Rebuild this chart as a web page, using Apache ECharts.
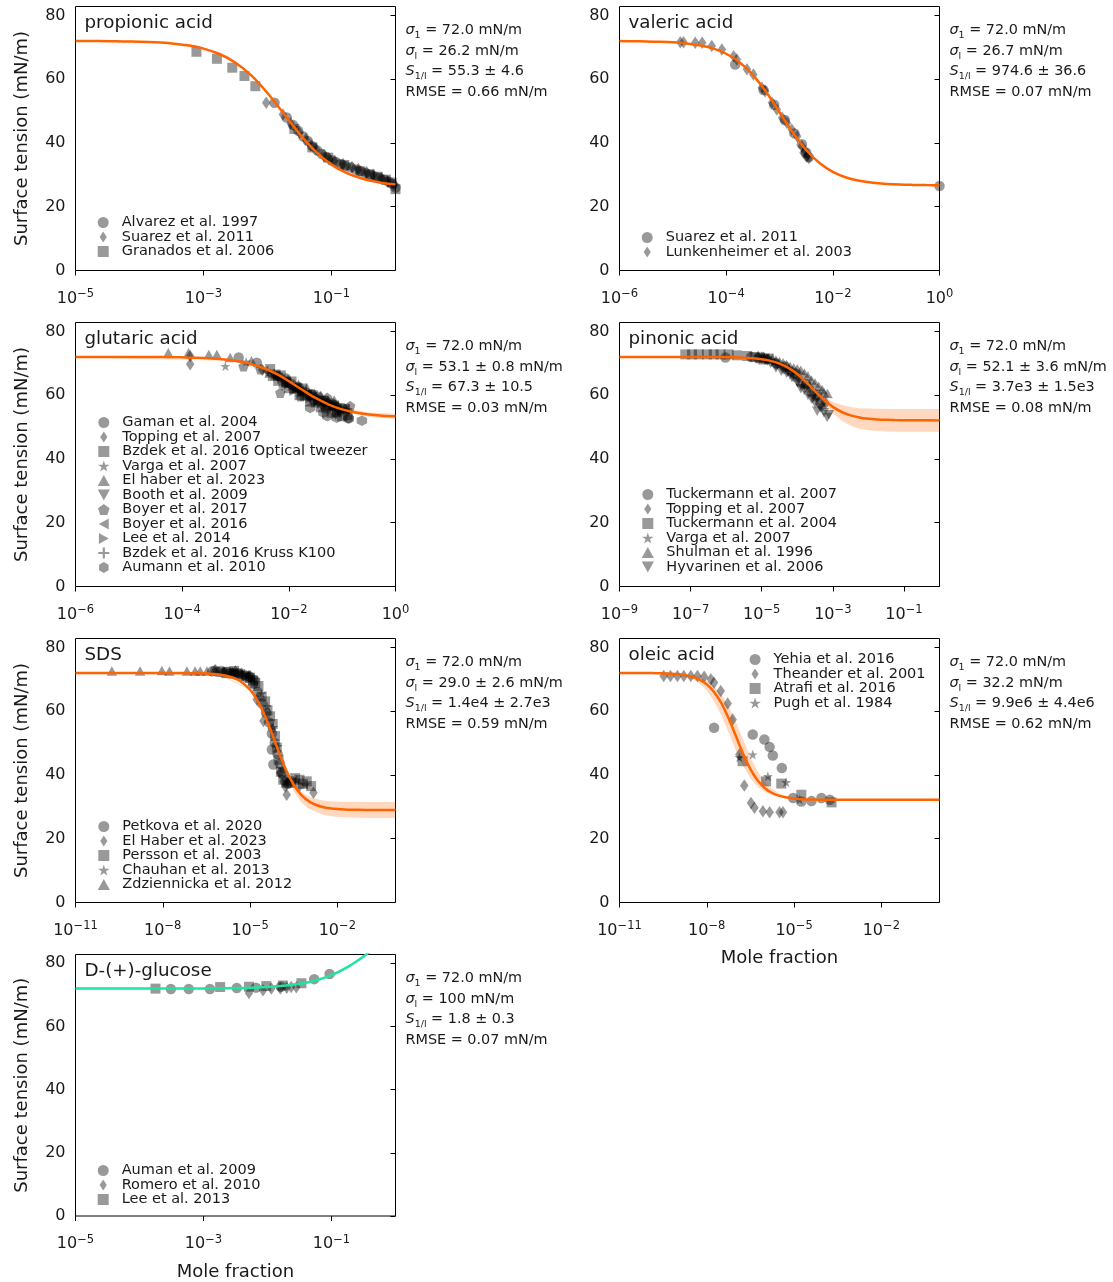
<!DOCTYPE html>
<html>
<head>
<meta charset="utf-8">
<script src="https://cdn.jsdelivr.net/npm/echarts@6/dist/echarts.min.js"></script>
<style>
  html, body { margin: 0; padding: 0; background: #fff; }
  #chart { width: 1113px; height: 1282px; }
</style>
</head>
<body>
<div id="chart"></div>
<script>
// x values are log10(mole fraction); y values are surface tension in mN/m.

// ---------- propionic acid ----------
const propionicAlvarez1997 = [[-1.89,52.6],[-1.70,48.0],[-1.60,45.6],[-1.52,43.8],[-1.44,42.0],[-1.37,40.6],[-1.30,39.0],[-1.22,37.6],[-1.15,36.5],[-1.08,35.6],[-1.00,34.6],[-0.93,34.0],[-0.86,33.4],[-0.78,32.8],[-0.70,32.3],[-0.62,31.7],[-0.55,31.2],[-0.47,30.6],[-0.40,30.1],[-0.32,29.5],[-0.25,29.0],[-0.18,28.5],[-0.11,27.9],[-0.05,27.2],[0.00,26.0]];
const propionicSuarez2011 = [[-2.02,52.6],[-1.76,48.9],[-1.64,46.2],[-1.50,43.2],[-1.40,41.2],[-1.32,39.4],[-1.24,38.0],[-1.12,36.2],[-1.04,35.0],[-0.95,34.4],[-0.82,33.4],[-0.68,32.5],[-0.58,31.8],[-0.45,30.8],[-0.35,30.0],[-0.22,29.0],[-0.12,28.0],[-0.02,26.8]];
const propionicGranados2006 = [[-3.11,68.6],[-2.79,66.4],[-2.55,63.6],[-2.36,61.0],[-2.19,57.8],[-1.58,44.4],[-1.30,38.6],[-1.05,35.4],[-0.80,33.1],[-0.55,31.1],[-0.40,30.1],[-0.28,29.4],[-0.15,28.5],[-0.06,27.6],[0.00,25.5]];
const propionicFit = [[-5,71.97],[-4.75,71.96],[-4.5,71.92],[-4.25,71.86],[-4,71.75],[-3.75,71.55],[-3.5,71.21],[-3.25,70.62],[-3,69.60],[-2.75,67.90],[-2.5,65.18],[-2.25,61.14],[-2,55.69],[-1.75,49.29],[-1.5,42.86],[-1.25,37.34],[-1,33.21],[-0.75,30.43],[-0.5,28.68],[-0.25,27.63],[0,27.01]];

// ---------- valeric acid ----------
const valericSuarez2011 = [[-3.83,64.6],[-3.30,56.6],[-3.10,52.0],[-2.90,47.2],[-2.72,43.0],[-2.58,39.6],[-2.50,37.0],[-2.45,35.5],[0.00,26.5]];
const valericLunkenheimer2003 = [[-4.86,71.6],[-4.80,71.6],[-4.58,71.4],[-4.45,71.4],[-4.27,70.4],[-4.08,69.3],[-3.86,67.2],[-3.80,66.2],[-3.61,63.1],[-3.49,61.5],[-3.33,57.3],[-3.27,56.2],[-3.14,52.6],[-3.05,50.5],[-2.95,47.9],[-2.86,46.3],[-2.77,44.2],[-2.67,42.1],[-2.58,39.0],[-2.55,36.9],[-2.52,37.5],[-2.49,35.8],[-2.47,36.2],[-2.45,35.3]];
const valericFit = [[-6,71.96],[-5.75,71.92],[-5.5,71.86],[-5.25,71.75],[-5,71.56],[-4.75,71.23],[-4.5,70.65],[-4.25,69.65],[-4,67.98],[-3.75,65.31],[-3.5,61.33],[-3.25,55.96],[-3,49.64],[-2.75,43.28],[-2.5,37.80],[-2.25,33.69],[-2,30.92],[-1.75,29.17],[-1.5,28.12],[-1.25,27.51],[-1,27.16],[-0.75,26.96],[-0.5,26.85],[-0.25,26.78],[0,26.75]];

// ---------- glutaric acid ----------
const glutaricGaman2004 = [[-2.94,71.8],[-2.60,70.2],[-2.20,66.0],[-2.05,65.2],[-1.95,63.5],[-1.82,62.6],[-1.70,61.0],[-1.58,60.4],[-1.45,59.5],[-1.32,58.2],[-1.20,57.5],[-1.10,56.3],[-1.00,56.0],[-0.88,52.9]];
const glutaricTopping2007 = [[-3.85,72.3],[-3.85,69.7],[-2.50,68.0],[-2.28,66.4],[-2.10,64.5],[-1.92,62.8],[-1.80,61.5],[-1.62,59.4],[-1.50,59.0],[-1.36,56.6],[-1.25,57.0],[-1.12,54.2],[-1.05,55.0]];
const glutaricBzdekOT2016 = [[-2.35,68.2],[-2.30,66.0],[-2.25,66.5],[-2.20,64.5],[-2.15,66.2],[-2.10,63.9],[-2.05,64.1],[-2.00,62.2],[-1.95,64.3],[-1.90,62.0],[-1.85,62.3],[-1.80,60.0],[-1.75,62.1],[-1.70,59.8],[-1.65,60.1],[-1.60,58.0],[-1.55,60.0],[-1.50,57.7],[-1.45,58.2],[-1.40,56.2],[-1.35,58.3],[-1.30,55.9],[-1.25,56.5],[-1.20,54.5],[-1.15,56.8],[-1.10,54.6],[-1.05,55.2],[-1.00,53.4],[-0.95,55.7],[-0.90,53.8]];
const glutaricVarga2007 = [[-3.19,69.1],[-2.80,70.5],[-2.40,67.0],[-2.00,63.8],[-1.80,61.0],[-1.60,60.0],[-1.30,57.6],[-1.10,55.8]];
const glutaricElHaber2023 = [[-4.26,73.3],[-3.88,73.3],[-3.50,72.8],[-3.35,72.8],[-3.10,71.8],[-2.70,70.8],[-2.35,67.0],[-2.00,64.8],[-1.82,63.4],[-1.66,62.3],[-1.52,60.6],[-1.40,60.0],[-1.26,58.4],[-1.15,58.5],[-0.95,56.0]];
const glutaricBooth2009 = [[-2.20,65.5],[-2.05,63.6],[-1.90,62.0],[-1.75,60.6],[-1.60,59.5],[-1.48,58.4],[-1.35,57.5],[-1.22,56.1],[-1.10,55.5],[-0.90,54.5]];
const glutaricBoyer2017 = [[-2.85,69.1],[-2.53,68.1],[-2.16,60.8],[-1.78,59.7],[-1.53,58.7],[-1.28,59.2],[-1.16,57.1],[-0.85,56.6]];
const glutaricBoyer2016 = [[-2.25,66.0],[-2.10,64.8],[-1.95,62.5],[-1.80,61.4],[-1.65,60.2],[-1.52,59.0],[-1.40,58.0],[-1.27,57.2],[-1.15,56.5],[-0.95,55.5]];
const glutaricLee2014 = [[-2.05,63.0],[-1.90,61.4],[-1.75,60.8],[-1.60,59.0],[-1.45,58.2],[-1.32,57.0],[-1.20,56.8],[-1.00,55.2]];
const glutaricBzdekKruss2016 = [[-2.40,67.5],[-2.20,65.2],[-2.00,63.0],[-1.80,61.2],[-1.60,59.2],[-1.45,57.4],[-1.30,56.8],[-1.18,55.4],[-1.05,55.8]];
const glutaricAumann2010 = [[-1.60,56.0],[-1.35,54.5],[-1.28,53.4],[-1.10,52.9],[-0.88,52.6],[-0.63,52.0]];
const glutaricFit = [[-6,72.0],[-5.5,72.0],[-5,71.99],[-4.75,71.98],[-4.5,71.96],[-4.25,71.93],[-4,71.87],[-3.75,71.78],[-3.5,71.61],[-3.25,71.31],[-3,70.81],[-2.75,69.98],[-2.5,68.68],[-2.25,66.81],[-2,64.40],[-1.75,61.70],[-1.5,59.14],[-1.25,57.05],[-1,55.55],[-0.75,54.56],[-0.5,53.95],[-0.25,53.59],[0,53.38]];
const glutaricBand = [[-6,71.9,72.1],[-3,70.7,70.9],[-2,64.2,64.6],[-1.5,58.8,59.5],[-1,54.9,56.1],[-0.5,53.2,54.6],[0,52.6,54.2]];

// ---------- pinonic acid ----------
const pinonicTuckermann2007 = [[-6.02,71.8],[-5.30,72.0],[-5.10,71.6],[-4.90,71.5],[-4.60,70.0],[-4.35,69.0],[-4.20,67.5],[-4.05,66.8],[-3.90,64.0],[-3.75,63.5],[-3.60,61.0],[-3.45,60.2],[-3.35,57.5]];
const pinonicTopping2007 = [[-5.00,71.8],[-4.85,71.2],[-4.75,70.5],[-4.60,69.8],[-4.40,68.5],[-4.25,67.8],[-4.10,66.0],[-3.95,65.2],[-3.80,63.5],[-3.65,62.4],[-3.55,60.0],[-3.45,59.5],[-3.30,56.5],[-3.20,57.5]];
const pinonicTuckermann2004 = [[-7.15,72.8],[-6.96,72.8],[-6.77,72.8],[-6.54,72.8],[-6.35,72.8],[-6.16,72.8],[-5.93,72.8],[-5.69,72.5],[-5.41,72.3],[-5.20,72.0],[-5.05,71.8],[-4.95,71.2],[-4.80,71.5]];
const pinonicVarga2007 = [[-4.85,71.0],[-4.65,70.5],[-4.50,69.5],[-4.30,68.0],[-4.15,66.5],[-4.00,65.5],[-3.85,63.0],[-3.70,62.5],[-3.50,59.0],[-3.35,58.5]];
const pinonicShulman1996 = [[-5.10,72.5],[-4.95,72.2],[-4.80,71.8],[-4.70,71.4],[-4.60,71.0],[-4.50,70.6],[-4.40,70.2],[-4.30,69.6],[-4.20,69.0],[-4.10,68.6],[-4.00,68.3],[-3.90,67.8],[-3.80,67.0],[-3.70,66.0],[-3.60,64.8],[-3.50,63.8],[-3.40,62.8],[-3.30,61.8],[-3.25,60.8],[-3.15,60.5]];
const pinonicHyvarinen2006 = [[-4.60,68.5],[-4.45,67.5],[-4.30,66.8],[-4.15,65.5],[-4.00,64.0],[-3.90,62.0],[-3.80,61.5],[-3.70,60.0],[-3.60,58.8],[-3.50,57.5],[-3.44,55.0],[-3.35,56.0],[-3.25,54.5],[-3.16,53.0],[-3.11,53.9]];
const pinonicFit = [[-9,72.0],[-8,72.0],[-7,71.99],[-6.5,71.98],[-6.25,71.96],[-6,71.93],[-5.75,71.87],[-5.5,71.77],[-5.25,71.59],[-5,71.29],[-4.75,70.77],[-4.5,69.92],[-4.25,68.57],[-4,66.63],[-3.75,64.10],[-3.5,61.27],[-3.25,58.56],[-3,56.33],[-2.75,54.73],[-2.5,53.67],[-2.25,53.01],[-2,52.62],[-1.75,52.40],[-1.5,52.27],[-1.25,52.20],[-1,52.15],[-0.5,52.12],[0,52.10]];
const pinonicBand = [[-9,71.85,72.15],[-6,71.8,72.1],[-5,71.1,71.5],[-4.5,69.7,70.15],[-4,66.3,66.9],[-3.75,63.7,64.5],[-3.5,60.6,61.8],[-3.25,57.4,59.6],[-3,54.3,57.9],[-2.75,52.0,57.0],[-2.5,50.5,56.3],[-2.25,49.5,55.9],[-2,49.0,55.8],[-1.5,48.6,55.7],[-1,48.5,55.7],[0,48.5,55.7]];

// ---------- SDS ----------
const sdsPetkova2020 = [[-6.30,72.5],[-6.20,72.8],[-6.10,72.3],[-6.00,72.6],[-5.90,72.0],[-5.80,72.4],[-5.70,71.8],[-5.60,72.0],[-5.50,71.6],[-5.40,71.8],[-5.30,71.2],[-5.20,71.4],[-5.10,70.5],[-5.00,70.8],[-4.90,68.5],[-4.85,69.8],[-4.75,66.0],[-4.60,62.5],[-4.45,59.5],[-4.35,56.5],[-4.25,53.0],[-4.25,48.0],[-4.20,43.3],[-4.15,50.0],[-4.05,46.5],[-3.97,43.5],[-3.90,40.5],[-3.80,38.0],[-3.70,37.2],[-3.55,38.0]];
const sdsElHaber2023 = [[-5.50,72.5],[-5.00,71.0],[-4.77,63.7],[-4.54,56.9],[-4.25,54.3],[-3.97,40.7],[-3.79,36.4],[-3.74,33.8],[-3.30,36.5],[-2.82,34.4]];
const sdsPersson2003 = [[-5.80,72.2],[-5.55,72.6],[-5.40,71.8],[-5.15,71.0],[-5.00,70.5],[-4.90,69.6],[-4.82,68.9],[-4.71,67.9],[-4.60,64.6],[-4.48,63.1],[-4.40,60.2],[-4.31,58.4],[-4.22,56.0],[-4.14,52.2],[-4.08,48.6],[-4.02,44.8],[-3.94,41.0],[-3.86,38.5],[-3.75,37.6],[-3.60,37.5],[-3.45,39.0],[-3.30,38.5],[-3.18,37.2],[-3.05,38.0],[-2.90,36.5]];
const sdsChauhan2013 = [[-5.60,72.3],[-5.20,71.8],[-4.90,70.2],[-4.60,65.5],[-4.40,61.5],[-4.20,55.0],[-4.05,49.0],[-3.90,42.0],[-3.75,38.0],[-3.40,38.5],[-3.10,37.0]];
const sdsZdziennicka2012 = [[-9.75,72.6],[-8.78,72.6],[-8.03,72.8],[-7.77,72.6],[-7.17,72.6],[-6.89,72.6],[-6.71,72.6],[-6.48,72.6],[-6.20,73.4],[-5.90,72.8],[-5.60,72.4],[-5.30,72.2],[-5.05,71.5]];
const sdsFit = [[-11,72.0],[-8,71.99],[-7.5,71.98],[-7,71.94],[-6.75,71.89],[-6.5,71.81],[-6.25,71.66],[-6,71.41],[-5.75,70.96],[-5.5,70.18],[-5.25,68.86],[-5,66.72],[-4.75,63.43],[-4.5,58.80],[-4.25,53.06],[-4,46.92],[-3.75,41.33],[-3.5,36.93],[-3.25,33.85],[-3,31.87],[-2.75,30.66],[-2.5,29.95],[-2.25,29.54],[-2,29.30],[-1.75,29.17],[-1.5,29.10],[-1,29.03],[0,29.0]];
const sdsBand = [[-11,71.9,72.1],[-6,71.3,71.5],[-5,66.5,66.9],[-4.5,58.4,59.0],[-4,46.0,47.3],[-3.75,40.0,41.8],[-3.5,35.0,37.6],[-3.25,31.5,34.8],[-3,29.5,33.2],[-2.5,27.5,32.0],[-2,26.8,31.6],[-1,26.5,31.5],[0,26.5,31.5]];

// ---------- oleic acid ----------
const oleicYehia2016 = [[-7.75,54.8],[-6.42,52.7],[-6.02,51.1],[-5.84,48.8],[-5.73,46.1],[-5.42,42.2],[-5.03,32.8],[-4.75,31.7],[-4.40,31.8],[-4.06,32.8],[-3.77,32.2]];
const oleicTheander2001 = [[-9.48,71.0],[-9.25,71.0],[-9.01,71.0],[-8.79,71.0],[-8.55,71.0],[-8.32,71.0],[-8.09,70.8],[-7.86,70.0],[-7.75,68.9],[-7.52,66.3],[-7.28,62.4],[-7.11,57.4],[-6.88,46.4],[-6.71,36.7],[-6.48,31.2],[-6.36,29.7],[-6.07,28.6],[-5.84,28.3],[-5.50,28.3],[-5.38,28.3]];
const oleicAtrafi2016 = [[-6.77,44.3],[-5.96,38.0],[-5.44,37.3],[-4.75,33.8],[-3.71,31.4]];
const oleicPugh1984 = [[-6.88,45.5],[-6.42,46.4],[-5.90,39.6],[-5.27,37.7],[-4.81,32.3]];
const oleicFit = [[-11,72.0],[-10.5,71.99],[-10,71.96],[-9.75,71.93],[-9.5,71.88],[-9.25,71.78],[-9,71.61],[-8.75,71.31],[-8.5,70.79],[-8.25,69.90],[-8,68.41],[-7.75,66.04],[-7.5,62.51],[-7.25,57.77],[-7,52.20],[-6.75,46.62],[-6.5,41.84],[-6.25,38.26],[-6,35.85],[-5.75,34.34],[-5.5,33.43],[-5.25,32.90],[-5,32.59],[-4.75,32.42],[-4.5,32.33],[-4.25,32.27],[-4,32.24],[-3,32.21],[-2,32.20],[0,32.20]];
const oleicBand = [[-11,71.9,72.1],[-9,71.4,71.75],[-8.5,70.08,71.2],[-8.25,68.71,70.61],[-8,66.51,69.60],[-7.75,63.22,67.94],[-7.5,58.72,65.33],[-7.25,53.31,61.56],[-7,47.74,56.66],[-6.75,42.80,51.08],[-6.5,38.98,45.66],[-6.25,36.33,41.12],[-6,34.64,37.78],[-5.75,33.61,35.55],[-5.5,33.0,34.16],[-5.25,32.65,33.32],[-5,32.45,32.84],[-4.5,32.25,32.45],[0,32.1,32.3]];

// ---------- D-(+)-glucose ----------
const glucoseAuman2009 = [[-3.51,71.85],[-3.23,71.85],[-2.90,71.9],[-2.48,72.2],[-2.18,72.3],[-1.79,72.6],[-1.27,75.0],[-1.03,76.6]];
const glucoseRomero2010 = [[-2.29,70.6],[-2.07,71.5],[-1.94,72.0],[-1.80,72.0],[-1.70,72.3],[-1.63,72.5],[-1.55,72.4]];
const glucoseLee2013 = [[-3.75,72.0],[-2.74,72.5],[-2.29,72.6],[-2.02,72.8],[-1.76,73.0],[-1.47,73.7]];
const glucoseFit = [[-5,72.0],[-4,72.0],[-3.5,72.02],[-3.25,72.03],[-3,72.05],[-2.75,72.09],[-2.5,72.16],[-2.25,72.28],[-2,72.50],[-1.75,72.87],[-1.5,73.51],[-1.25,74.57],[-1,76.27],[-0.75,78.79],[-0.5,82.16],[-0.25,86.08],[0,90.0]];

// ---------- axis ticks ----------
const yTicks = [0, 20, 40, 60, 80];
const ticksM5 = [-5, -3, -1];
const ticksM6 = [-6, -4, -2, 0];
const ticksM9 = [-9, -7, -5, -3, -1];
const ticksM11 = [-11, -8, -5, -2];

// ---------- styling ----------
const FONT = 'DejaVu Sans';
const TEXT = '#1a1a1a';
const ORANGE = '#ff6400';
const ORANGE_BAND = 'rgba(255,100,0,0.25)';
const GREEN = '#20e3a0';
const MARK = 'rgba(0,0,0,0.5)';
const Y_MAX = 82.8;

const SYM = {
  circle: 'circle',
  square: 'path://M-1,-1L1,-1L1,1L-1,1Z',
  diamond: 'path://M0,-1L0.65,0L0,1L-0.65,0Z',
  star: 'path://M0,-1L0.2245,-0.309L0.951,-0.309L0.363,0.118L0.588,0.809L0,0.382L-0.588,0.809L-0.363,0.118L-0.951,-0.309L-0.2245,-0.309Z',
  triUp: 'path://M0,-1L1,0.8L-1,0.8Z',
  triDown: 'path://M-1,-0.8L1,-0.8L0,1Z',
  triLeft: 'path://M0.8,-1L0.8,1L-1,0Z',
  triRight: 'path://M-0.8,-1L-0.8,1L1,0Z',
  pentagon: 'path://M0,-1L0.951,-0.309L0.588,0.809L-0.588,0.809L-0.951,-0.309Z',
  hexagon: 'path://M0,-1L0.866,-0.5L0.866,0.5L0,1L-0.866,0.5L-0.866,-0.5Z',
  plus: 'path://M-0.2,-1L0.2,-1L0.2,-0.2L1,-0.2L1,0.2L0.2,0.2L0.2,1L-0.2,1L-0.2,0.2L-1,0.2L-1,-0.2L-0.2,-0.2Z'
};
const SYM_SIZE = {
  circle: 10.5, square: 10, diamond: [8.5, 12.5], star: 10, triUp: [10.5, 9.5], triDown: [10.5, 9.5],
  triLeft: [9.5, 10.5], triRight: [9.5, 10.5], pentagon: 10.5, hexagon: 10.5, plus: 10
};

const COL_X = [75.5, 619.5];
const ROW_Y = [6.5, 322.5, 638.5, 954.5];
const GW = 320, GH = 264;

const panels = [
  { title: 'propionic acid', col: 0, row: 0, xMin: -5, xTicks: ticksM5, color: ORANGE, fit: propionicFit, band: null,
    stats: ['72.0 mN/m', '26.2 mN/m', '55.3 ± 4.6', '0.66 mN/m'], legendTop: 208.5, yName: true, xName: false,
    sets: [['Alvarez et al. 1997', 'circle', propionicAlvarez1997], ['Suarez et al. 2011', 'diamond', propionicSuarez2011], ['Granados et al. 2006', 'square', propionicGranados2006]] },
  { title: 'valeric acid', col: 1, row: 0, xMin: -6, xTicks: ticksM6, color: ORANGE, fit: valericFit, band: null,
    stats: ['72.0 mN/m', '26.7 mN/m', '974.6 ± 36.6', '0.07 mN/m'], legendTop: 223.5, yName: false, xName: false,
    sets: [['Suarez et al. 2011', 'circle', valericSuarez2011], ['Lunkenheimer et al. 2003', 'diamond', valericLunkenheimer2003]] },
  { title: 'glutaric acid', col: 0, row: 1, xMin: -6, xTicks: ticksM6, color: ORANGE, fit: glutaricFit, band: glutaricBand,
    stats: ['72.0 mN/m', '53.1 ± 0.8 mN/m', '67.3 ± 10.5', '0.03 mN/m'], legendTop: 92.5, yName: true, xName: false,
    sets: [['Gaman et al. 2004', 'circle', glutaricGaman2004], ['Topping et al. 2007', 'diamond', glutaricTopping2007],
           ['Bzdek et al. 2016 Optical tweezer', 'square', glutaricBzdekOT2016], ['Varga et al. 2007', 'star', glutaricVarga2007],
           ['El haber et al. 2023', 'triUp', glutaricElHaber2023], ['Booth et al. 2009', 'triDown', glutaricBooth2009],
           ['Boyer et al. 2017', 'pentagon', glutaricBoyer2017], ['Boyer et al. 2016', 'triLeft', glutaricBoyer2016],
           ['Lee et al. 2014', 'triRight', glutaricLee2014], ['Bzdek et al. 2016 Kruss K100', 'plus', glutaricBzdekKruss2016],
           ['Aumann et al. 2010', 'hexagon', glutaricAumann2010]] },
  { title: 'pinonic acid', col: 1, row: 1, xMin: -9, xTicks: ticksM9, color: ORANGE, fit: pinonicFit, band: pinonicBand,
    stats: ['72.0 mN/m', '52.1 ± 3.6 mN/m', '3.7e3 ± 1.5e3', '0.08 mN/m'], legendTop: 164.5, yName: false, xName: false,
    sets: [['Tuckermann et al. 2007', 'circle', pinonicTuckermann2007], ['Topping et al. 2007', 'diamond', pinonicTopping2007],
           ['Tuckermann et al. 2004', 'square', pinonicTuckermann2004], ['Varga et al. 2007', 'star', pinonicVarga2007],
           ['Shulman et al. 1996', 'triUp', pinonicShulman1996], ['Hyvarinen et al. 2006', 'triDown', pinonicHyvarinen2006]] },
  { title: 'SDS', col: 0, row: 2, xMin: -11, xTicks: ticksM11, color: ORANGE, fit: sdsFit, band: sdsBand,
    stats: ['72.0 mN/m', '29.0 ± 2.6 mN/m', '1.4e4 ± 2.7e3', '0.59 mN/m'], legendTop: 180.5, yName: true, xName: false,
    sets: [['Petkova et al. 2020', 'circle', sdsPetkova2020], ['El Haber et al. 2023', 'diamond', sdsElHaber2023],
           ['Persson et al. 2003', 'square', sdsPersson2003], ['Chauhan et al. 2013', 'star', sdsChauhan2013],
           ['Zdziennicka et al. 2012', 'triUp', sdsZdziennicka2012]] },
  { title: 'oleic acid', col: 1, row: 2, xMin: -11, xTicks: ticksM11, color: ORANGE, fit: oleicFit, band: oleicBand,
    stats: ['72.0 mN/m', '32.2 mN/m', '9.9e6 ± 4.4e6', '0.62 mN/m'], legendTop: 13.5, legendLeft: 749.3, yName: false, xName: true,
    sets: [['Yehia et al. 2016', 'circle', oleicYehia2016], ['Theander et al. 2001', 'diamond', oleicTheander2001],
           ['Atrafi et al. 2016', 'square', oleicAtrafi2016], ['Pugh et al. 1984', 'star', oleicPugh1984]] },
  { title: 'D-(+)-glucose', col: 0, row: 3, xMin: -5, xTicks: ticksM5, color: GREEN, fit: glucoseFit, band: null,
    stats: ['72.0 mN/m', '100 mN/m', '1.8 ± 0.3', '0.07 mN/m'], legendTop: 208.5, yName: true, xName: true,
    sets: [['Auman et al. 2009', 'circle', glucoseAuman2009], ['Romero et al. 2010', 'diamond', glucoseRomero2010],
           ['Lee et al. 2013', 'square', glucoseLee2013]] }
];

function powLabel(v) {
  const n = Math.round(v);
  return '{b|10}{e|' + (n < 0 ? '\u2212' : '') + Math.abs(n) + '}';
}

function bandRenderer(rows, fill) {
  return function (params, api) {
    if (params.dataIndex !== 0) return;
    const upper = rows.map(r => api.coord([r[0], r[2]]));
    const lower = rows.map(r => api.coord([r[0], r[1]])).reverse();
    return { type: 'polygon', shape: { points: upper.concat(lower) }, style: { fill: fill }, silent: true };
  };
}

const grid = [], xAxis = [], yAxis = [], series = [], legend = [], graphic = [];

panels.forEach((p, i) => {
  const gx = COL_X[p.col], gy = ROW_Y[p.row];
  grid.push({ left: gx, top: gy, width: GW, height: GH, show: true, borderColor: '#000', borderWidth: 1, backgroundColor: 'transparent' });

  xAxis.push({
    gridIndex: i, type: 'value', min: p.xMin, max: 0,
    axisLine: { show: false }, splitLine: { show: false },
    axisTick: { show: true, inside: false, length: 5, lineStyle: { color: '#000', width: 1 }, customValues: p.xTicks },
    axisLabel: {
      customValues: p.xTicks, formatter: powLabel, margin: 18, color: TEXT, fontFamily: FONT,
      rich: {
        b: { fontSize: 16, lineHeight: 20, fontFamily: FONT, color: TEXT },
        e: { fontSize: 11.5, lineHeight: 8, verticalAlign: 'top', fontFamily: FONT, color: TEXT }
      }
    },
    name: p.xName ? 'Mole fraction' : '', nameLocation: 'middle', nameGap: 47,
    nameTextStyle: { fontSize: 18, fontFamily: FONT, color: TEXT }
  });

  yAxis.push({
    gridIndex: i, type: 'value', min: 0, max: Y_MAX,
    axisLine: { show: false }, splitLine: { show: false },
    axisTick: { show: true, inside: false, length: 5, lineStyle: { color: '#000', width: 1 }, customValues: yTicks },
    axisLabel: { customValues: yTicks, fontSize: 16, margin: 10, color: TEXT, fontFamily: FONT },
    name: p.yName ? 'Surface tension (mN/m)' : '', nameLocation: 'middle', nameGap: 44, nameRotate: 90,
    nameTextStyle: { fontSize: 18, fontFamily: FONT, color: TEXT }
  });

  if (p.band) {
    series.push({
      type: 'custom', xAxisIndex: i, yAxisIndex: i, data: p.band, encode: { x: 0, y: [1, 2] },
      renderItem: bandRenderer(p.band, ORANGE_BAND), z: 1, silent: true
    });
  }

  p.sets.forEach(s => {
    series.push({
      type: 'scatter', name: s[0], xAxisIndex: i, yAxisIndex: i, data: s[2],
      symbol: SYM[s[1]], symbolSize: SYM_SIZE[s[1]],
      itemStyle: { color: MARK }, z: 2, silent: true
    });
  });

  series.push({
    type: 'line', xAxisIndex: i, yAxisIndex: i, data: p.fit, showSymbol: false,
    smooth: 0.35, clip: true,
    lineStyle: { color: p.color, width: 2.5 }, itemStyle: { color: p.color }, z: 3, silent: true
  });

  legend.push({
    orient: 'vertical', left: p.legendLeft != null ? p.legendLeft : gx + 22.2, top: gy + p.legendTop,
    itemWidth: 27, itemHeight: 11, itemGap: -0.5, padding: 0, selectedMode: false,
    textStyle: { fontSize: 14.5, lineHeight: 14.5, fontFamily: FONT, color: TEXT },
    data: p.sets.map(s => ({ name: s[0], icon: SYM[s[1]] }))
  });

  graphic.push({
    type: 'text', x: gx + 9, y: gy + 17, silent: true,
    style: { text: p.title, fontSize: 18.3, fontFamily: FONT, fill: TEXT, verticalAlign: 'middle' }
  });

  graphic.push({
    type: 'text', x: gx + GW + 10, y: gy + 14, silent: true,
    style: {
      text: '{i|σ}{s|1} = ' + p.stats[0] + '\n{i|σ}{s|l} = ' + p.stats[1] + '\n{i|S}{s|1/l} = ' + p.stats[2] + '\nRMSE = ' + p.stats[3],
      fontSize: 14.4, lineHeight: 20.5, fontFamily: FONT, fill: TEXT, verticalAlign: 'top',
      rich: {
        i: { fontSize: 14.4, lineHeight: 20.5, fontStyle: 'italic', fontFamily: FONT, fill: TEXT },
        s: { fontSize: 9.5, lineHeight: 11, verticalAlign: 'bottom', fontFamily: FONT, fill: TEXT }
      }
    }
  });
});

const chart = echarts.init(document.getElementById('chart'), null, { renderer: 'canvas' });
chart.setOption({
  animation: false,
  backgroundColor: '#fff',
  grid, xAxis, yAxis, series, legend, graphic
});
</script>
</body>
</html>
